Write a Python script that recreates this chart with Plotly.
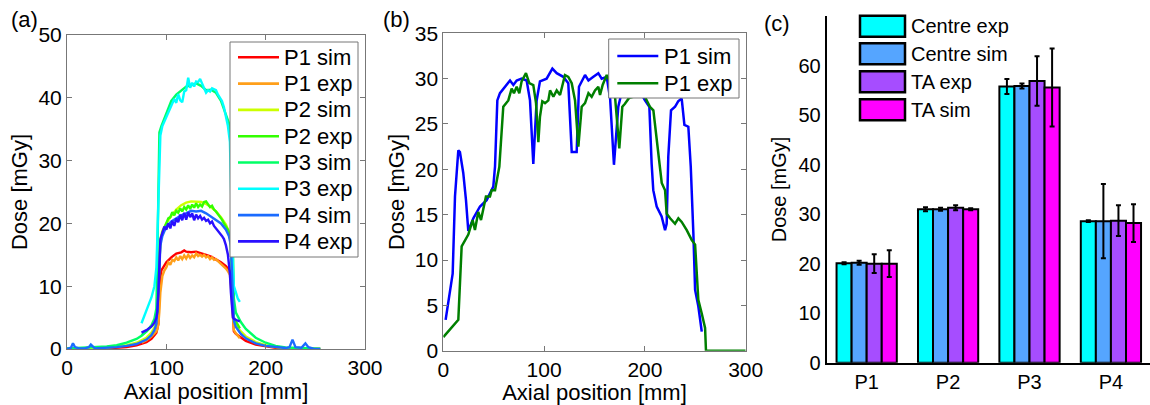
import plotly.graph_objects as go

W, H = 1150, 405
FONT = "Liberation Sans, Arial, sans-serif"

# ---------------- Panel (a) data ----------------
a_names = ["P1 sim", "P1 exp", "P2 sim", "P2 exp", "P3 sim", "P3 exp", "P4 sim", "P4 exp"]
a_colors = ["#ff0000", "#ff9f1a", "#ccff00", "#33ff00", "#00ff66", "#00ffff", "#1a6bff", "#2a10ff"]

exp_x = [75, 80, 85, 88, 90, 91, 92, 93, 94, 96, 98, 100, 102, 104, 106, 108, 110, 112, 114, 116,
         118, 120, 122, 124, 126, 128, 130, 132, 134, 136, 138, 140, 142, 144, 146, 148, 150, 152,
         154, 156, 158, 160, 162, 164, 165, 166, 167, 168, 170, 172, 174]

p1_sim_x = [0, 20, 40, 60, 70, 80, 85, 88, 90, 92, 93, 95, 100, 105, 110, 115, 118, 120, 125, 130,
            135, 140, 145, 150, 155, 160, 164, 166, 167, 168, 170, 175, 180, 190, 200, 210, 220, 240, 255]
p1_sim_y = [0.02, 0.05, 0.1, 0.3, 0.6, 1.1, 1.6, 2.2, 2.6, 4.0, 9.0, 12.5, 13.8, 14.6, 15.2, 15.4, 15.7,
            15.5, 15.4, 15.5, 15.3, 15.0, 14.7, 14.3, 13.8, 13.2, 12.4, 9.0, 4.0, 2.8, 2.4, 1.8, 1.3,
            0.7, 0.4, 0.2, 0.1, 0.05, 0.02]
p1_exp_y = [1.0, 1.4, 2.0, 2.4, 2.8, 3.2, 4.0, 6.0, 9.0, 11.6, 12.5, 13.0, 13.8, 13.4, 14.2, 14.0, 14.6,
            14.1, 14.8, 14.3, 14.9, 14.4, 15.0, 14.5, 14.9, 14.6, 15.2, 14.8, 15.0, 14.7, 15.0, 14.6,
            14.8, 14.3, 14.6, 14.2, 14.3, 14.0, 13.7, 13.5, 13.2, 12.8, 12.4, 11.8, 10.0, 7.0, 4.0,
            3.0, 2.5, 2.0, 1.7]

p2_sim_x = [0, 20, 40, 50, 60, 70, 80, 85, 88, 90, 92, 94, 96, 100, 105, 110, 115, 120, 125, 130, 135,
            140, 145, 150, 155, 160, 163, 165, 166, 167, 168, 170, 175, 180, 190, 200, 210, 220, 240, 255]
p2_sim_y = [0.05, 0.1, 0.25, 0.4, 0.6, 1.0, 1.8, 2.6, 3.4, 4.5, 10.0, 17.5, 18.8, 20.0, 21.2, 22.2, 22.9,
            23.3, 23.5, 23.5, 23.4, 23.1, 22.6, 21.9, 21.0, 19.8, 18.7, 17.5, 13.0, 7.0, 4.5, 3.8, 2.8,
            2.0, 1.1, 0.6, 0.3, 0.15, 0.05, 0.02]
p2_exp_y = [2.2, 2.8, 3.6, 4.2, 5.0, 6.0, 10.0, 14.0, 17.0, 18.5, 19.2, 20.0, 20.8, 21.0, 21.8, 21.3,
            22.0, 21.7, 22.4, 21.9, 22.6, 22.2, 22.9, 22.3, 23.0, 22.5, 23.2, 22.6, 23.0, 22.7, 23.4,
            23.5, 23.0, 22.6, 22.8, 22.2, 21.9, 21.5, 21.0, 20.6, 20.0, 19.5, 19.0, 18.0, 16.0, 12.0,
            7.0, 5.0, 4.4, 3.8, 3.3]

p3_sim_x = [0, 20, 40, 50, 60, 70, 75, 80, 85, 88, 90, 91, 92, 93, 95, 100, 105, 110, 115, 120, 125,
            130, 135, 140, 145, 150, 155, 160, 163, 165, 166, 167, 168, 170, 175, 180, 190, 200, 210,
            220, 240, 255]
p3_sim_y = [0.1, 0.2, 0.4, 0.6, 1.0, 1.6, 2.1, 2.8, 3.8, 4.8, 6.5, 15.0, 28.0, 34.5, 35.5, 37.5, 39.5,
            40.5, 41.2, 41.8, 42.0, 42.3, 41.9, 41.2, 41.3, 40.8, 39.5, 37.5, 36.0, 33.0, 25.0, 14.0,
            8.0, 5.8, 4.3, 3.2, 1.8, 1.0, 0.5, 0.25, 0.08, 0.03]
p3_exp_y = [4.1, 6.0, 8.2, 10.0, 13.0, 18.0, 24.0, 30.0, 34.0, 35.5, 36.2, 37.0, 37.8, 38.4, 39.0, 39.8,
            39.2, 40.6, 39.6, 39.3, 41.0, 41.2, 43.2, 41.6, 42.4, 41.8, 42.6, 42.5, 43.0, 42.2, 41.5,
            40.8, 41.2, 41.0, 41.5, 41.3, 41.2, 40.5, 40.0, 39.5, 38.5, 37.2, 35.5, 33.0, 28.0, 20.0,
            13.0, 10.0, 9.0, 8.0, 7.5]

p4_sim_x = [0, 4, 6, 8, 12, 18, 22, 24, 28, 40, 50, 60, 70, 80, 85, 88, 90, 92, 94, 96, 100, 105, 110,
            115, 120, 125, 130, 135, 140, 145, 150, 155, 160, 163, 165, 166, 167, 168, 170, 175, 180,
            190, 200, 210, 220, 224, 227, 230, 236, 240, 243, 248, 255]
p4_sim_y = [0.0, 0.2, 0.9, 0.3, 0.1, 0.1, 0.3, 0.7, 0.1, 0.15, 0.3, 0.5, 0.8, 1.5, 2.2, 3.0, 4.0, 9.0,
            16.5, 18.0, 19.5, 20.3, 20.8, 21.3, 21.6, 22.0, 21.9, 22.0, 21.6, 21.1, 20.6, 20.0, 19.0,
            18.0, 16.5, 12.0, 7.0, 4.5, 3.5, 2.4, 1.7, 0.9, 0.5, 0.3, 0.15, 0.3, 1.5, 0.3, 0.2, 0.9,
            0.3, 0.05, 0.02]
p4_exp_y = [2.6, 3.0, 3.6, 4.2, 5.0, 6.0, 9.0, 14.0, 17.5, 18.5, 19.5, 19.0, 20.0, 19.2, 20.4, 19.6,
            20.8, 20.2, 21.4, 20.5, 21.7, 20.6, 21.8, 21.0, 21.6, 20.5, 21.4, 20.8, 21.2, 20.6, 20.9,
            20.4, 20.6, 20.0, 20.3, 19.6, 19.2, 18.8, 18.5, 18.0, 17.5, 16.5, 15.0, 12.0, 9.0, 6.0,
            5.0, 4.8, 4.6, 4.5, 4.4]

a_x = [p1_sim_x, exp_x, p2_sim_x, exp_x, p3_sim_x, exp_x, p4_sim_x, exp_x]
a_y = [p1_sim_y, p1_exp_y, p2_sim_y, p2_exp_y, p3_sim_y, p3_exp_y, p4_sim_y, p4_exp_y]

# ---------------- Panel (b) data ----------------
b_names = ["P1 sim", "P1 exp"]
b_colors = ["#0000ff", "#007f00"]
b_sim_x = [2.3, 5, 9.3, 11.6, 14.9, 16.5, 19.8, 22.5, 24.8, 29.8, 36.4, 43, 49.6, 51.3, 53.6, 56.2,
           62.9, 66.2, 69.5, 72.8, 77.7, 82.7, 86, 89.3, 92.6, 95.9, 102.5, 108.2, 112.5, 119, 124,
           127.4, 132.3, 134.6, 140.6, 144, 148.9, 153.8, 157.1, 162.1, 165.5, 169.3, 173.6, 178, 185,
           192, 200.1, 204.4, 206.7, 208.3, 211.7, 216.6, 220, 221.6, 223.2, 225.9, 229.9, 233, 236.5,
           239.2, 243.1, 245.5, 248.1, 249.8, 253, 256.4]
b_sim_y = [3.4, 5.6, 8.5, 17.0, 22.1, 21.9, 19.6, 16.6, 13.2, 14.6, 15.9, 16.6, 18.1, 20.3, 27.6, 28.4,
           29.3, 29.8, 29.3, 29.8, 30.0, 29.8, 27.6, 20.6, 27.6, 29.7, 30.0, 31.1, 30.6, 30.2, 29.5,
           21.9, 21.9, 29.1, 30.4, 29.8, 30.2, 30.6, 30.0, 30.2, 27.8, 20.5, 26.9, 29.0, 29.5, 29.2,
           27.6, 26.9, 20.6, 17.7, 15.9, 14.8, 13.3, 14.0, 21.4, 26.5, 26.9, 27.5, 27.8, 24.9, 24.7,
           20.3, 12.9, 6.7, 4.9, 2.1]
b_exp_x = [0, 8.3, 14.9, 18.2, 24.8, 29.1, 31.4, 34.7, 37.4, 42.3, 46.3, 48, 51.3, 55.6, 59.5, 64.5,
           67.8, 70.1, 72.8, 75.4, 77.7, 82, 85.3, 89.3, 92, 94.3, 95.9, 98.2, 100.9, 104.2, 105.9,
           109.2, 112.5, 115.8, 118.4, 120.7, 124, 127.4, 130.7, 134, 137.3, 140.6, 144, 147.2, 150.5,
           153.8, 155.5, 158.1, 162.1, 166, 170, 174.6, 177.6, 180, 184.5, 188.4, 195, 200, 205, 208.4,
           213.4, 216.7, 220, 221.6, 225, 229.9, 233.2, 236.5, 241.5, 246.5, 249.8, 253, 256.4, 259.7,
           260.6, 300]
b_exp_y = [1.5, 2.5, 3.4, 11.5, 12.8, 14.4, 13.3, 15.3, 14.4, 17.0, 17.0, 17.7, 17.7, 20.3, 26.9, 27.6,
           28.9, 28.4, 29.1, 28.4, 29.7, 30.6, 29.5, 29.3, 27.3, 23.0, 25.8, 27.5, 27.3, 27.6, 28.7,
           28.0, 28.7, 28.2, 29.3, 30.4, 30.2, 29.5, 27.6, 22.5, 26.9, 27.3, 28.4, 28.0, 28.7, 29.1,
           28.2, 29.3, 30.4, 29.5, 28.5, 22.3, 26.9, 27.2, 27.9, 28.0, 28.2, 28.0, 26.9, 26.5, 21.9,
           18.5, 17.7, 15.1, 14.6, 14.0, 14.6, 14.2, 13.3, 12.2, 11.7, 5.6, 4.1, 2.5, 0.0, 0.0]

# ---------------- Panel (c) data ----------------
c_categories = ["P1", "P2", "P3", "P4"]
c_series = ["Centre exp", "Centre sim", "TA exp", "TA sim"]
c_colors = ["#00ffff", "#55a5ff", "#a64dff", "#ff00ff"]
centre_exp = [20.1, 31.0, 55.8, 28.6]
centre_sim = [20.2, 31.0, 55.9, 28.6]
ta_exp = [20.0, 31.3, 56.9, 28.7]
ta_sim = [20.0, 31.0, 55.6, 28.2]
centre_exp_err = [0.2, 0.4, 1.5, 0.2]
centre_sim_err = [0.4, 0.3, 0.5, 7.5]
ta_exp_err = [1.9, 0.5, 5.0, 3.1]
ta_sim_err = [2.7, 0.2, 7.9, 3.8]
c_values = [centre_exp, centre_sim, ta_exp, ta_sim]
c_errors = [centre_exp_err, centre_sim_err, ta_exp_err, ta_sim_err]

# ---------------- Figure ----------------
fig = go.Figure()


def px_x(p):
    return p / W


def px_y(p):
    return 1 - p / H


for name, col, xs, ys in zip(a_names, a_colors, a_x, a_y):
    fig.add_trace(go.Scatter(x=xs, y=ys, mode="lines", name=name, line=dict(color=col, width=2.4),
                             xaxis="x", yaxis="y", showlegend=False))

for name, col, xs, ys in zip(b_names, b_colors, [b_sim_x, b_exp_x], [b_sim_y, b_exp_y]):
    fig.add_trace(go.Scatter(x=xs, y=ys, mode="lines", name=name, line=dict(color=col, width=2.5),
                             xaxis="x2", yaxis="y2", showlegend=False))

for name, col, vals, errs in zip(c_series, c_colors, c_values, c_errors):
    fig.add_trace(go.Bar(x=c_categories, y=vals, name=name,
                         marker=dict(color=col, line=dict(color="black", width=2)),
                         error_y=dict(type="data", array=errs, color="black", thickness=2, width=2.5),
                         xaxis="x3", yaxis="y3", showlegend=False))

frame = dict(showline=True, linecolor="#777777", linewidth=1, mirror="ticks", ticks="inside",
             ticklen=5, tickcolor="#777777", showgrid=False, zeroline=False, automargin=False,
             tickfont=dict(family=FONT, size=21, color="black"),
             title_font=dict(family=FONT, size=22, color="black"))

shapes = []
annotations = []


def line_legend(names, colors, box, rows, line_x, text_x, width):
    x0, x1, y0, y1 = box
    shapes.append(dict(type="rect", xref="paper", yref="paper", layer="above",
                       x0=px_x(x0), x1=px_x(x1), y0=px_y(y1), y1=px_y(y0),
                       fillcolor="white", line=dict(color="#777777", width=1)))
    for name, col, yc in zip(names, colors, rows):
        shapes.append(dict(type="line", xref="paper", yref="paper", layer="above",
                           x0=px_x(line_x[0]), x1=px_x(line_x[1]), y0=px_y(yc), y1=px_y(yc),
                           line=dict(color=col, width=width)))
        annotations.append(dict(text=name, xref="paper", yref="paper", x=px_x(text_x), y=px_y(yc),
                                xanchor="left", yanchor="middle", showarrow=False,
                                font=dict(family=FONT, size=22, color="black")))


# legend of panel (a)
line_legend(a_names, a_colors, (230, 358, 42, 257), [57.3 + 26.3 * i for i in range(8)],
            (238, 279), 282, 2.6)
# legend of panel (b)
line_legend(b_names, b_colors, (608.7, 739, 39, 98), [56.0, 83.3], (617.3, 658.3), 662, 2.6)

# legend of panel (c)
leg_rows = [26.2, 53.8, 81.7, 109.8]
for name, col, yc in zip(c_series, c_colors, leg_rows):
    shapes.append(dict(type="rect", xref="paper", yref="paper", layer="above",
                       x0=px_x(860), x1=px_x(905), y0=px_y(yc + 10.5), y1=px_y(yc - 10.5),
                       fillcolor=col, line=dict(color="black", width=2.5)))
    annotations.append(dict(text=name, xref="paper", yref="paper", x=px_x(909), y=px_y(yc),
                            xanchor="left", yanchor="middle", showarrow=False,
                            font=dict(family=FONT, size=20, color="black")))

for lab, xx, yy in [("(a)", 9, 19), ("(b)", 381, 19), ("(c)", 762, 23)]:
    annotations.append(dict(text=lab, xref="paper", yref="paper", x=px_x(xx), y=px_y(yy),
                            xanchor="left", yanchor="middle", showarrow=False,
                            font=dict(family=FONT, size=22, color="black")))

fig.update_layout(
    width=W, height=H, margin=dict(l=0, r=0, t=0, b=0, autoexpand=False),
    paper_bgcolor="white", plot_bgcolor="white",
    font=dict(family=FONT, color="black"),
    xaxis=dict(domain=[px_x(67), px_x(365)], range=[0, 300], tickvals=[0, 100, 200, 300],
               title=dict(text="Axial position [mm]", standoff=2), anchor="y", **frame),
    yaxis=dict(domain=[px_y(349), px_y(35)], range=[0, 50], tickvals=[0, 10, 20, 30, 40, 50],
               title=dict(text="Dose [mGy]", standoff=4), anchor="x", **frame),
    xaxis2=dict(domain=[px_x(443.3), px_x(745.7)], range=[0, 300], tickvals=[0, 100, 200, 300],
                title=dict(text="Axial position [mm]", standoff=2), anchor="y2", **frame),
    yaxis2=dict(domain=[px_y(350.7), px_y(33.3)], range=[0, 35],
                tickvals=[0, 5, 10, 15, 20, 25, 30, 35],
                title=dict(text="Dose [mGy]", standoff=4), anchor="x2", **frame),
    xaxis3=dict(domain=[px_x(826.7), 1.0], range=[-0.491, 3.48], showline=True, linecolor="black",
                linewidth=2, ticks="", showgrid=False, zeroline=False, anchor="y3", automargin=False,
                tickfont=dict(family=FONT, size=20, color="black")),
    yaxis3=dict(domain=[px_y(362.7), px_y(16.2)], range=[0, 70], tickvals=[0, 10, 20, 30, 40, 50, 60],
                showline=True, linecolor="black", linewidth=2, ticks="", showgrid=False,
                zeroline=False, anchor="x3", automargin=False,
                tickfont=dict(family=FONT, size=20, color="black"),
                title=dict(text="Dose [mGy]", standoff=6, font=dict(family=FONT, size=20, color="black"))),
    barmode="group", bargap=0.26, bargroupgap=0,
    shapes=shapes, annotations=annotations, showlegend=False,
)

fig.write_html("out.html")
